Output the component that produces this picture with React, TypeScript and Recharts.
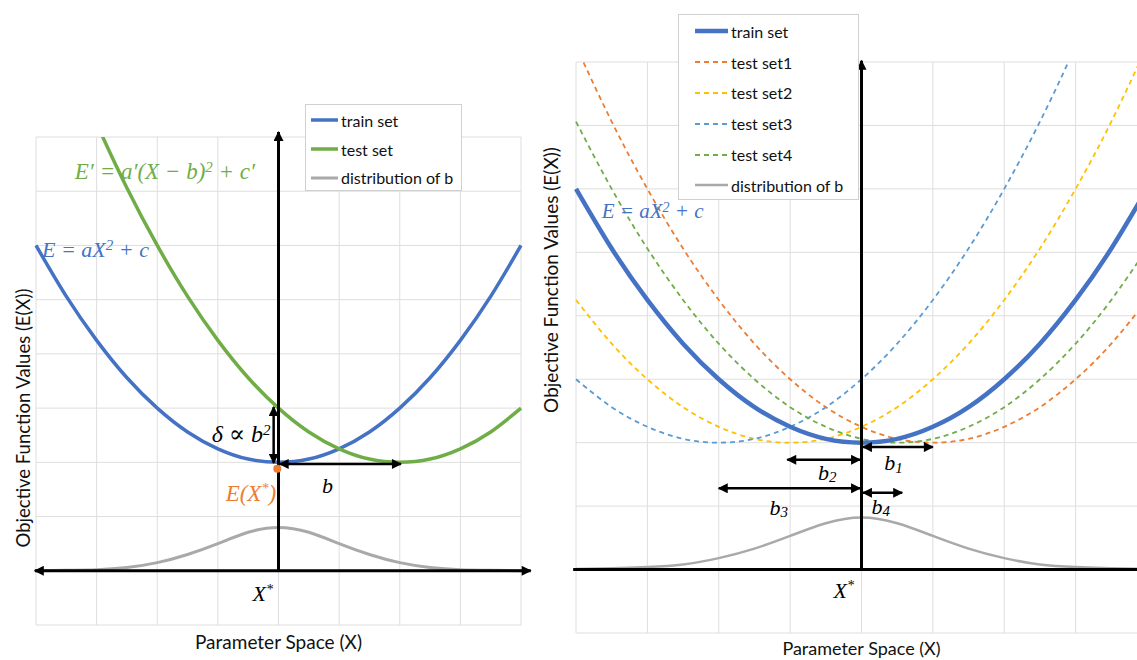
import React from "react";
import {
  CartesianGrid,
  ComposedChart,
  Legend,
  Line,
  ReferenceDot,
  ReferenceLine,
  XAxis,
  YAxis,
} from "recharts";

// sample positions along the parameter axis
const X_VALUES = [-4, -3.5, -3, -2.5, -2, -1.5, -1, -0.5, 0, 0.5, 1, 1.5, 2, 2.5, 3, 3.5, 4];
const X_TICKS = [-4, -3, -2, -1, 0, 1, 2, 3, 4];
const Y_TICKS = [-1, 0, 1, 2, 3, 4, 5, 6, 7, 8];

// left panel: train vs. shifted test objective, plus distribution of b
const TRAIN = [6, 5.06, 4.25, 3.56, 3, 2.56, 2.25, 2.06, 2, 2.06, 2.25, 2.56, 3, 3.56, 4.25, 5.06, 6];
const TEST = [11, 9.56, 8.25, 7.06, 6, 5.06, 4.25, 3.56, 3, 2.56, 2.25, 2.06, 2, 2.06, 2.25, 2.56, 3];
const DIST_LEFT = [0, 0.01, 0.02, 0.06, 0.15, 0.3, 0.5, 0.71, 0.8, 0.71, 0.5, 0.3, 0.15, 0.06, 0.02, 0.01, 0];

// right panel: four test sets shifted by b1..b4
const TEST1 = [8.25, 7.06, 6, 5.06, 4.25, 3.56, 3, 2.56, 2.25, 2.06, 2, 2.06, 2.25, 2.56, 3, 3.56, 4.25];
const TEST2 = [4.25, 3.56, 3, 2.56, 2.25, 2.06, 2, 2.06, 2.25, 2.56, 3, 3.56, 4.25, 5.06, 6, 7.06, 8.25];
const TEST3 = [3, 2.56, 2.25, 2.06, 2, 2.06, 2.25, 2.56, 3, 3.56, 4.25, 5.06, 6, 7.06, 8.25, 9.56, 11];
const TEST4 = [7.06, 6, 5.06, 4.25, 3.56, 3, 2.56, 2.25, 2.06, 2, 2.06, 2.25, 2.56, 3, 3.56, 4.25, 5.06];
const DIST_RIGHT = [0.01, 0.02, 0.04, 0.08, 0.18, 0.33, 0.53, 0.73, 0.82, 0.73, 0.53, 0.33, 0.18, 0.08, 0.04, 0.02, 0.01];

const BLUE = "#4472C4";
const GREEN = "#70AD47";
const GRAY = "#A9A9A9";
const ORANGE = "#ED7D31";
const YELLOW = "#FFC000";
const LIGHT_BLUE = "#5B9BD5";

const SANS = "Lato, 'Noto Sans', sans-serif";
const SERIF = "'Liberation Serif', 'DejaVu Serif', serif";

const leftData = X_VALUES.map((x, i) => ({ x, train: TRAIN[i], test: TEST[i], dist: DIST_LEFT[i] }));
const rightData = X_VALUES.map((x, i) => ({
  x,
  train: TRAIN[i],
  test1: TEST1[i],
  test2: TEST2[i],
  test3: TEST3[i],
  test4: TEST4[i],
  dist: DIST_RIGHT[i],
}));

type LegendItem = { name: string; color: string; width: number; dash?: string };

const LEFT_LEGEND: LegendItem[] = [
  { name: "train set", color: BLUE, width: 3.5 },
  { name: "test set", color: GREEN, width: 3.5 },
  { name: "distribution of b", color: GRAY, width: 3 },
];

const RIGHT_LEGEND: LegendItem[] = [
  { name: "train set", color: BLUE, width: 4.5 },
  { name: "test set1", color: ORANGE, width: 1.8, dash: "5 4" },
  { name: "test set2", color: YELLOW, width: 1.8, dash: "5 4" },
  { name: "test set3", color: LIGHT_BLUE, width: 1.8, dash: "5 4" },
  { name: "test set4", color: GREEN, width: 1.8, dash: "5 4" },
  { name: "distribution of b", color: GRAY, width: 2.5 },
];

// ticks stay invisible, but a truthy tick keeps the grid lines
const noTick = () => <g />;

function LegendBox({
  items,
  rowHeight,
  padLeft,
  iconWidth,
  width,
  height,
}: {
  items: LegendItem[];
  rowHeight: number;
  padLeft: number;
  iconWidth: number;
  width: number;
  height: number;
}) {
  return (
    <div
      style={{
        width,
        height,
        boxSizing: "border-box",
        border: "1px solid #d0d0d0",
        background: "#fff",
        paddingTop: 1,
        fontFamily: SANS,
        fontSize: 16,
        color: "#111",
      }}
    >
      {items.map((it) => (
        <div key={it.name} style={{ display: "flex", alignItems: "center", height: rowHeight, paddingLeft: padLeft }}>
          <svg width={iconWidth} height={8} style={{ marginRight: 3 }}>
            <line x1={0} y1={4} x2={iconWidth} y2={4} stroke={it.color} strokeWidth={it.width} strokeDasharray={it.dash} />
          </svg>
          <span>{it.name}</span>
        </div>
      ))}
    </div>
  );
}

function ArrowDefs({ id }: { id: string }) {
  return (
    <defs>
      <marker
        id={id}
        viewBox="0 0 10 10"
        refX={9}
        refY={5}
        markerWidth={11}
        markerHeight={10}
        markerUnits="userSpaceOnUse"
        orient="auto-start-reverse"
      >
        <path d="M0,0 L10,5 L0,10 z" fill="#000" />
      </marker>
    </defs>
  );
}

function arrow(
  key: string,
  marker: string,
  p1: [number, number],
  p2: [number, number],
  opts: { start?: boolean; end?: boolean; width?: number } = {}
) {
  const { start = false, end = true, width = 2.5 } = opts;
  return (
    <ReferenceLine
      key={key}
      segment={[
        { x: p1[0], y: p1[1] },
        { x: p2[0], y: p2[1] },
      ]}
      ifOverflow="visible"
      shape={(p: any) => (
        <line
          x1={p.x1}
          y1={p.y1}
          x2={p.x2}
          y2={p.y2}
          stroke="#000"
          strokeWidth={width}
          markerStart={start ? `url(#${marker})` : undefined}
          markerEnd={end ? `url(#${marker})` : undefined}
        />
      )}
    />
  );
}

// text anchored at a data coordinate
function note(
  key: string,
  x: number,
  y: number,
  content: React.ReactNode,
  style: { color?: string; size?: number; anchor?: "start" | "middle" | "end" } = {}
) {
  const { color = "#000", size = 22, anchor = "middle" } = style;
  return (
    <ReferenceDot
      key={key}
      x={x}
      y={y}
      r={0}
      ifOverflow="visible"
      fill="none"
      stroke="none"
      label={(p: any) => (
        <text
          x={p.viewBox.x}
          y={p.viewBox.y}
          textAnchor={anchor}
          dominantBaseline="central"
          fill={color}
          fontFamily={SERIF}
          fontStyle="italic"
          fontSize={size}
        >
          {content}
        </text>
      )}
    />
  );
}

const sup = (s: string, size = 15, rise = 4) => (
  <tspan fontSize={size} dy={-rise}>
    {s}
  </tspan>
);
const sub = (s: string, size = 15, drop = 5) => (
  <tspan fontSize={size} dy={drop}>
    {s}
  </tspan>
);

const yTitle = (cx: number, cy: number, size: number) => (p: any) => (
  <text
    x={p.viewBox.x + cx}
    y={cy}
    transform={`rotate(-90 ${p.viewBox.x + cx} ${cy})`}
    textAnchor="middle"
    dominantBaseline="central"
    fontFamily={SANS}
    fontSize={size}
    fill="#111"
  >
    Objective Function Values (E(X))
  </text>
);

const xTitle = (cy: number, size: number) => (p: any) => (
  <text
    x={p.viewBox.x + p.viewBox.width / 2}
    y={p.viewBox.y + cy}
    textAnchor="middle"
    dominantBaseline="central"
    fontFamily={SANS}
    fontSize={size}
    fill="#111"
  >
    Parameter Space (X)
  </text>
);

function LeftPanel() {
  return (
    <div style={{ position: "absolute", left: 0, top: 0 }}>
      <ComposedChart width={540} height={660} data={leftData} margin={{ top: 137, right: 19, bottom: 0, left: 0 }}>
        <ArrowDefs id="arrowLeft" />
        <CartesianGrid stroke="#dedede" />
        <XAxis
          dataKey="x"
          type="number"
          domain={[-4, 4]}
          ticks={X_TICKS}
          tick={noTick}
          tickLine={false}
          axisLine={false}
          height={35}
          label={xTitle(16, 19)}
        />
        <YAxis
          type="number"
          domain={[-1, 8]}
          ticks={Y_TICKS}
          allowDataOverflow
          tick={noTick}
          tickLine={false}
          axisLine={false}
          width={36}
          label={yTitle(23, 418, 18.5)}
        />
        <Legend
          layout="vertical"
          align="center"
          verticalAlign="middle"
          wrapperStyle={{ left: 305, top: 104, width: 157, height: 87 }}
          content={() => (
            <LegendBox items={LEFT_LEGEND} rowHeight={28.7} padLeft={5} iconWidth={27} width={157} height={87} />
          )}
        />
        <Line type="natural" dataKey="dist" stroke={GRAY} strokeWidth={3} dot={false} isAnimationActive={false} />
        <Line type="natural" dataKey="train" stroke={BLUE} strokeWidth={3.5} dot={false} isAnimationActive={false} />
        <Line type="natural" dataKey="test" stroke={GREEN} strokeWidth={3.5} dot={false} isAnimationActive={false} />

        {arrow("xaxis", "arrowLeft", [-4.02, 0], [4.16, 0], { start: true, width: 3 })}
        {arrow("yaxis", "arrowLeft", [0, 0], [0, 8.09], { width: 3 })}
        {arrow("delta", "arrowLeft", [-0.08, 1.99], [-0.08, 3.02], { start: true })}
        {arrow("b", "arrowLeft", [0.02, 1.97], [2.02, 1.97], { start: true })}
        <ReferenceDot x={-0.02} y={1.88} r={4} fill={ORANGE} stroke="none" ifOverflow="visible" />

        {note("eqTest", -3.36, 7.37, <>E′ = a′(X − b){sup("2")}<tspan dy={4}> + c′</tspan></>, { color: GREEN, anchor: "start", size: 23 })}
        {note("eqTrain", -3.9, 5.93, <>E = aX{sup("2")}<tspan dy={4}> + c</tspan></>, { color: BLUE, anchor: "start" })}
        {note("delta", -0.13, 2.52, <>δ ∝ b{sup("2")}</>, { anchor: "end", size: 24 })}
        {note("bLabel", 0.81, 1.57, "b")}
        {note("ex", -0.04, 1.43, <>E(X{sup("*", 14, 5)}<tspan dy={5}>)</tspan></>, { color: ORANGE, anchor: "end", size: 23 })}
        {note("xstar", -0.26, -0.42, <>X{sup("*", 14, 5)}</>)}
      </ComposedChart>
    </div>
  );
}

function RightPanel() {
  const dashed = { strokeWidth: 1.8, strokeDasharray: "5 4", dot: false, isAnimationActive: false } as const;
  return (
    <div style={{ position: "absolute", left: 540, top: 0 }}>
      <ComposedChart width={620} height={660} data={rightData} margin={{ top: 62, right: 13, bottom: 0, left: 0 }}>
        <ArrowDefs id="arrowRight" />
        <CartesianGrid stroke="#dedede" />
        <XAxis
          dataKey="x"
          type="number"
          domain={[-4, 4]}
          ticks={X_TICKS}
          tick={noTick}
          tickLine={false}
          axisLine={false}
          height={27}
          label={xTitle(15, 18)}
        />
        <YAxis
          type="number"
          domain={[-1, 8]}
          ticks={Y_TICKS}
          allowDataOverflow
          tick={noTick}
          tickLine={false}
          axisLine={false}
          width={36}
          label={yTitle(10, 280, 19)}
        />
        <Legend
          layout="vertical"
          align="center"
          verticalAlign="middle"
          wrapperStyle={{ left: 138, top: 14, width: 181, height: 186 }}
          content={() => (
            <LegendBox items={RIGHT_LEGEND} rowHeight={30.8} padLeft={16} iconWidth={33} width={181} height={186} />
          )}
        />
        <Line type="natural" dataKey="test1" stroke={ORANGE} {...dashed} />
        <Line type="natural" dataKey="test2" stroke={YELLOW} {...dashed} />
        <Line type="natural" dataKey="test3" stroke={LIGHT_BLUE} {...dashed} />
        <Line type="natural" dataKey="test4" stroke={GREEN} {...dashed} />
        <Line type="natural" dataKey="train" stroke={BLUE} strokeWidth={4.5} dot={false} isAnimationActive={false} />
        <Line type="natural" dataKey="dist" stroke={GRAY} strokeWidth={2.5} dot={false} isAnimationActive={false} />

        {arrow("xaxis", "arrowRight", [-4.04, 0], [4.3, 0], { end: false, width: 3 })}
        {arrow("yaxis", "arrowRight", [0, 0], [0, 8.02], { width: 3 })}
        {arrow("b1", "arrowRight", [0.02, 1.93], [1.0, 1.93], { start: true })}
        {arrow("b2", "arrowRight", [-1.04, 1.73], [-0.02, 1.73], { start: true })}
        {arrow("b3", "arrowRight", [-2.0, 1.28], [-0.02, 1.28], { start: true })}
        {arrow("b4", "arrowRight", [0.02, 1.21], [0.57, 1.21], { start: true })}

        {note("eqTrain", -3.64, 5.65, <>E = aX{sup("2", 14, 4)}<tspan dy={4}> + c</tspan></>, { color: BLUE, anchor: "start", size: 21 })}
        {note("b1", 0.45, 1.68, <>b{sub("1")}</>)}
        {note("b2", -0.48, 1.53, <>b{sub("2")}</>)}
        {note("b3", -1.16, 0.98, <>b{sub("3")}</>)}
        {note("b4", 0.27, 1.0, <>b{sub("4")}</>)}
        {note("xstar", -0.25, -0.33, <>X{sup("*", 14, 5)}</>)}
      </ComposedChart>
    </div>
  );
}

export default function App() {
  return (
    <div
      style={{
        position: "absolute",
        left: 0,
        top: 0,
        width: 1137,
        height: 660,
        overflow: "hidden",
        background: "#fff",
      }}
    >
      <LeftPanel />
      <RightPanel />
    </div>
  );
}
